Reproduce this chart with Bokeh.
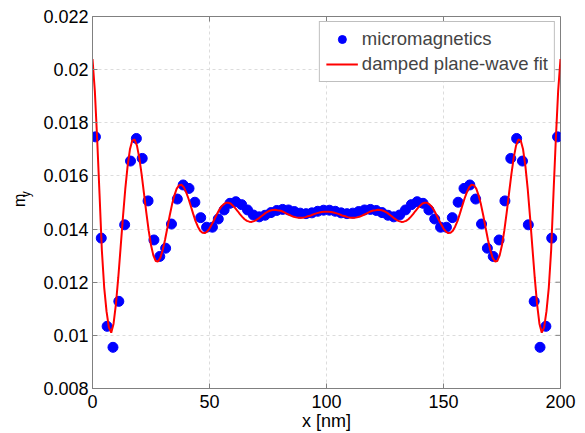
from bokeh.plotting import figure
from bokeh.models import FixedTicker, LinearAxis, Legend, LegendItem, Range1d
from bokeh.embed import file_html
from bokeh.resources import INLINE

# ---- data ----
x_data = [1.25, 3.75, 6.25, 8.75, 11.25, 13.75, 16.25, 18.75, 21.25, 23.75,
          26.25, 28.75, 31.25, 33.75, 36.25, 38.75, 41.25, 43.75, 46.25, 48.75,
          51.25, 53.75, 56.25, 58.75, 61.25, 63.75, 66.25, 68.75, 71.25, 73.75,
          76.25, 78.75, 81.25, 83.75, 86.25, 88.75, 91.25, 93.75, 96.25, 98.75,
          101.25, 103.75, 106.25, 108.75, 111.25, 113.75, 116.25, 118.75, 121.25, 123.75,
          126.25, 128.75, 131.25, 133.75, 136.25, 138.75, 141.25, 143.75, 146.25, 148.75,
          151.25, 153.75, 156.25, 158.75, 161.25, 163.75, 166.25, 168.75, 171.25, 173.75,
          176.25, 178.75, 181.25, 183.75, 186.25, 188.75, 191.25, 193.75, 196.25, 198.75]
y_data = [0.01747, 0.01366, 0.01034, 0.00955, 0.01128, 0.01416, 0.01656, 0.01741, 0.01666, 0.01506,
          0.01359, 0.01297, 0.01328, 0.01419, 0.01513, 0.01566, 0.01553, 0.01501, 0.01443, 0.01407,
          0.01407, 0.01438, 0.01472, 0.01497, 0.01503, 0.01492, 0.01472, 0.01453, 0.01446, 0.01452,
          0.01462, 0.01470, 0.01474, 0.01472, 0.01466, 0.01460, 0.01458, 0.01461, 0.01467, 0.01471,
          0.01471, 0.01467, 0.01461, 0.01458, 0.01460, 0.01466, 0.01472, 0.01474, 0.01470, 0.01462,
          0.01452, 0.01446, 0.01453, 0.01472, 0.01492, 0.01503, 0.01497, 0.01472, 0.01438, 0.01407,
          0.01407, 0.01443, 0.01501, 0.01553, 0.01566, 0.01513, 0.01419, 0.01328, 0.01297, 0.01359,
          0.01506, 0.01666, 0.01741, 0.01656, 0.01416, 0.01128, 0.00955, 0.01034, 0.01366, 0.01747]

fit_x = [0, 1, 2, 3, 4, 5, 6, 7, 8, 9, 10, 11, 12, 13, 14, 15, 16, 17, 18, 19,
         20, 21, 22, 23, 24, 25, 26, 27, 28, 29, 30, 31, 32, 33, 34, 35, 36, 37, 38, 39,
         40, 41, 42, 43, 44, 45, 46, 47, 48, 49, 50, 51, 52, 53, 54, 55, 56, 57, 58, 59,
         60, 61, 62, 63, 64, 65, 66, 67, 68, 69, 70, 71, 72, 73, 74, 75, 76, 77, 78, 79,
         80, 81, 82, 83, 84, 85, 86, 87, 88, 89, 90, 91, 92, 93, 94, 95, 96, 97, 98, 99,
         100, 101, 102, 103, 104, 105, 106, 107, 108, 109, 110, 111, 112, 113, 114, 115, 116, 117, 118, 119,
         120, 121, 122, 123, 124, 125, 126, 127, 128, 129, 130, 131, 132, 133, 134, 135, 136, 137, 138, 139,
         140, 141, 142, 143, 144, 145, 146, 147, 148, 149, 150, 151, 152, 153, 154, 155, 156, 157, 158, 159,
         160, 161, 162, 163, 164, 165, 166, 167, 168, 169, 170, 171, 172, 173, 174, 175, 176, 177, 178, 179,
         180, 181, 182, 183, 184, 185, 186, 187, 188, 189, 190, 191, 192, 193, 194, 195, 196, 197, 198, 199, 200]
fit_y = [0.02040, 0.01920, 0.01738, 0.01533, 0.01320, 0.01180, 0.01090, 0.01030, 0.01010, 0.01044,
         0.01117, 0.01216, 0.01329, 0.01444, 0.01550, 0.01637, 0.01700, 0.01733, 0.01737, 0.01714,
         0.01668, 0.01606, 0.01534, 0.01462, 0.01395, 0.01340, 0.01301, 0.01280, 0.01278, 0.01292,
         0.01321, 0.01360, 0.01405, 0.01451, 0.01493, 0.01527, 0.01552, 0.01565, 0.01567, 0.01558,
         0.01539, 0.01515, 0.01487, 0.01458, 0.01431, 0.01410, 0.01394, 0.01386, 0.01385, 0.01391,
         0.01402, 0.01418, 0.01435, 0.01453, 0.01470, 0.01484, 0.01493, 0.01499, 0.01499, 0.01496,
         0.01488, 0.01479, 0.01468, 0.01456, 0.01446, 0.01437, 0.01431, 0.01428, 0.01427, 0.01430,
         0.01434, 0.01440, 0.01447, 0.01454, 0.01461, 0.01466, 0.01470, 0.01472, 0.01473, 0.01471,
         0.01470, 0.01467, 0.01463, 0.01458, 0.01454, 0.01450, 0.01446, 0.01444, 0.01443, 0.01443,
         0.01443, 0.01445, 0.01448, 0.01450, 0.01454, 0.01457, 0.01460, 0.01462, 0.01464, 0.01465,
         0.01465,
         0.01465, 0.01464, 0.01462, 0.01460, 0.01457, 0.01454, 0.01450, 0.01448, 0.01445, 0.01443,
         0.01443, 0.01443, 0.01444, 0.01446, 0.01450, 0.01454, 0.01458, 0.01463, 0.01467, 0.01470,
         0.01471, 0.01473, 0.01472, 0.01470, 0.01466, 0.01461, 0.01454, 0.01447, 0.01440, 0.01434,
         0.01430, 0.01427, 0.01428, 0.01431, 0.01437, 0.01446, 0.01456, 0.01468, 0.01479, 0.01488,
         0.01496, 0.01499, 0.01499, 0.01493, 0.01484, 0.01470, 0.01453, 0.01435, 0.01418, 0.01402,
         0.01391, 0.01385, 0.01386, 0.01394, 0.01410, 0.01431, 0.01458, 0.01487, 0.01515, 0.01539,
         0.01558, 0.01567, 0.01565, 0.01552, 0.01527, 0.01493, 0.01451, 0.01405, 0.01360, 0.01321,
         0.01292, 0.01278, 0.01280, 0.01301, 0.01340, 0.01395, 0.01462, 0.01534, 0.01606, 0.01668,
         0.01714, 0.01737, 0.01733, 0.01700, 0.01637, 0.01550, 0.01444, 0.01329, 0.01216, 0.01117,
         0.01044, 0.01010, 0.01030, 0.01090, 0.01180, 0.01320, 0.01533, 0.01738, 0.01920, 0.02040]

x_ticks = [0, 50, 100, 150, 200]
y_ticks = [0.008, 0.010, 0.012, 0.014, 0.016, 0.018, 0.020, 0.022]
y_tick_labels = ["0.008", "0.01", "0.012", "0.014", "0.016", "0.018", "0.02", "0.022"]
series_names = ["micromagnetics", "damped plane-wave fit"]
x_label = "x [nm]"
y_label_main = "\u00a0m"
y_label_sub = "\u00a0\u00a0\u00a0\u00a0\u00a0y"

FONT = "Liberation Sans"
GRAY = "#808080"
X_MIN, X_MAX = 0, 200
Y_MIN, Y_MAX = 0.008, 0.022

p = figure(width=577, height=433, output_backend="svg", toolbar_location=None,
           x_range=Range1d(X_MIN, X_MAX), y_range=Range1d(Y_MIN, Y_MAX),
           min_border_left=92, min_border_right=17, min_border_top=16, min_border_bottom=44)
p.background_fill_color = "white"
p.border_fill_color = "white"
p.outline_line_color = GRAY
p.outline_line_width = 1

p.xaxis.ticker = FixedTicker(ticks=x_ticks)
p.yaxis.ticker = FixedTicker(ticks=y_ticks)
p.yaxis.major_label_overrides = {t: s for t, s in zip(y_ticks, y_tick_labels)}
for ax in (p.xaxis, p.yaxis):
    ax.major_tick_in = 5
    ax.major_tick_out = 0
    ax.minor_tick_line_color = None
    ax.axis_line_color = GRAY
    ax.major_tick_line_color = GRAY
    ax.major_label_text_font = FONT
    ax.major_label_text_font_size = "18px"
    ax.major_label_text_color = "black"
p.yaxis.major_label_standoff = 4
p.xaxis.major_label_standoff = 6
p.xaxis.axis_label = x_label
p.xaxis.axis_label_standoff = 0
p.xaxis.axis_label_text_font = FONT
p.xaxis.axis_label_text_font_size = "18px"
p.xaxis.axis_label_text_font_style = "normal"
p.xaxis.axis_label_text_color = "black"

# y label "m" with subscript "y": two label-only axes stacked outside the tick labels
sub_ax = LinearAxis(ticker=FixedTicker(ticks=[]), major_tick_out=0, major_tick_in=0,
                    minor_tick_line_color=None, axis_line_color=None,
                    axis_label=y_label_sub, axis_label_standoff=8,
                    axis_label_text_font=FONT, axis_label_text_font_size="12px",
                    axis_label_text_font_style="normal", axis_label_text_color="black")
main_ax = LinearAxis(ticker=FixedTicker(ticks=[]), major_tick_out=0, major_tick_in=0,
                     minor_tick_line_color=None, axis_line_color=None,
                     axis_label=y_label_main, axis_label_standoff=-12,
                     axis_label_text_font=FONT, axis_label_text_font_size="16px",
                     axis_label_text_font_style="normal", axis_label_text_color="black")
p.add_layout(sub_ax, "left")
p.add_layout(main_ax, "left")

# inward box ticks on the top and right edges
p.ray(x=x_ticks, y=[Y_MAX] * len(x_ticks), length=5, length_units="screen",
      angle=-90, angle_units="deg", line_color=GRAY, line_width=1)
p.ray(x=[X_MAX] * len(y_ticks), y=y_ticks, length=5, length_units="screen",
      angle=180, angle_units="deg", line_color=GRAY, line_width=1)

p.xgrid.ticker = FixedTicker(ticks=x_ticks)
p.ygrid.ticker = FixedTicker(ticks=y_ticks)
p.grid.grid_line_color = "#dcdcdc"
p.grid.grid_line_dash = "3 3"
p.grid.grid_line_width = 1

r_pts = p.scatter(x_data, y_data, size=10, marker="circle",
                  fill_color="#0000ff", line_color="#0000ff")
r_fit = p.line(fit_x, fit_y, line_color="#ff0000", line_width=2)

legend = Legend(items=[LegendItem(label=series_names[0], renderers=[r_pts]),
                       LegendItem(label=series_names[1], renderers=[r_fit])],
                location="top_right", margin=5, padding=6, spacing=3,
                glyph_height=20, glyph_width=32, label_height=20, label_standoff=4,
                label_text_font=FONT, label_text_font_size="18.5px",
                border_line_color=GRAY, border_line_width=1,
                background_fill_color="white", background_fill_alpha=1.0)
p.add_layout(legend)

open("out.html", "w").write(file_html(p, INLINE))
